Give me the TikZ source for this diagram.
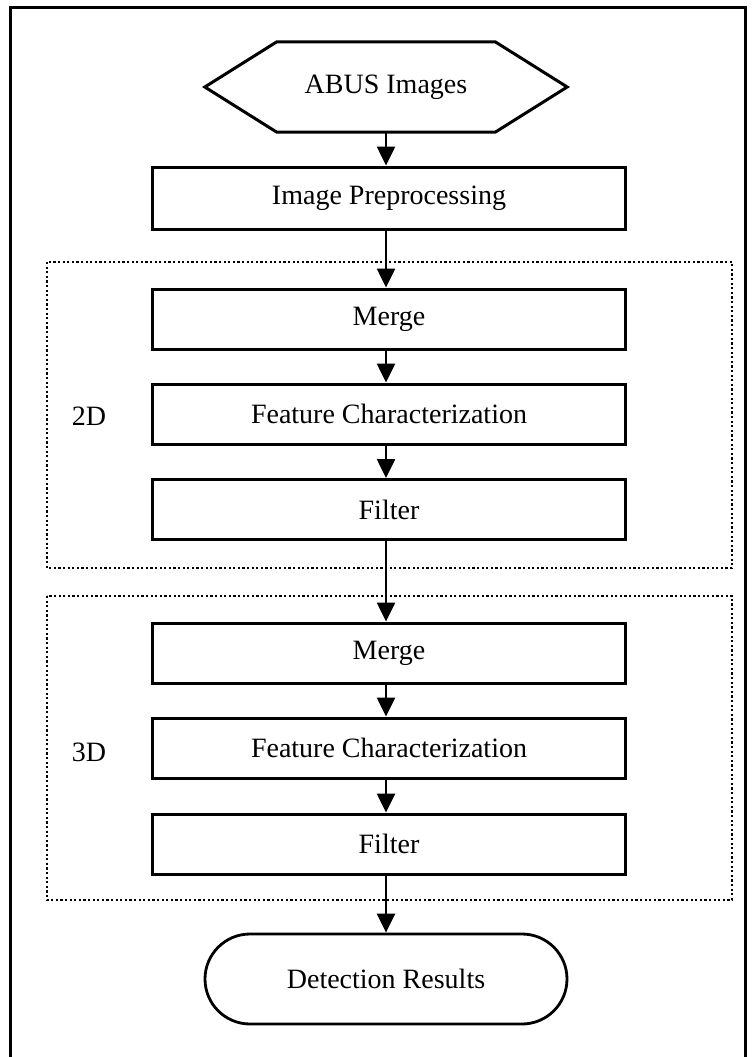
\documentclass[tikz,border=0pt]{standalone}
\usepackage{fontspec}
\setmainfont{Liberation Serif}
\usetikzlibrary{arrows.meta,shapes.misc,calc}
\begin{document}
\begin{tikzpicture}[x=1pt,y=-1pt,
  txt/.style={font=\fontsize{28}{32}\selectfont},
  procbox/.style={draw,line width=3pt,minimum width=473pt,minimum height=60pt,inner sep=0pt,txt},
  arr/.style={line width=2.6pt,-{Triangle[length=19pt,width=18pt]}},
  dotline/.style={line width=2.6pt,dash pattern=on 2.2pt off 2.4pt},
  frameline/.style={line width=3pt}]
\useasboundingbox (0,0) rectangle (755,1057);
% outer frame
\draw[frameline] (10.5,1075) -- (10.5,7.5) -- (745,7.5) -- (745,1075);
% dotted groups
\draw[dotline] (47,262) rectangle (732,568);
\draw[dotline] (47,596) rectangle (732,900);
\node[txt] (l2d) at (89,416) {2D};
\node[txt] (l3d) at (89,752) {3D};
% hexagon start
\node[minimum width=362pt,minimum height=90pt,inner sep=0pt,txt] (abus) at (386,87) {ABUS Images};
\draw[line width=3pt,line join=miter]
  (abus.west) -- ($(abus.north west)+(72,0)$) -- ($(abus.north east)+(-72,0)$)
  -- (abus.east) -- ($(abus.south east)+(-72,0)$) -- ($(abus.south west)+(72,0)$) -- cycle;
% process boxes
\node[procbox,minimum height=62pt] (prep) at (389,198) {Image Preprocessing};
\node[procbox] (m2) at (389,319) {Merge};
\node[procbox] (f2) at (389,414) {Feature Characterization};
\node[procbox] (fl2) at (389,509.5) {Filter};
\node[procbox] (m3) at (389,653) {Merge};
\node[procbox] (f3) at (389,748) {Feature Characterization};
\node[procbox] (fl3) at (389,844) {Filter};
% terminal
\node[draw,line width=2.8pt,rounded rectangle,minimum width=362pt,minimum height=90pt,inner sep=0pt,txt] (det) at (386,979) {Detection Results};
% connectors
\draw[arr] (abus.south) -- (abus.south |- prep.north);
\draw[arr] (prep.south -| abus.south) -- (abus.south |- m2.north);
\draw[arr] (m2.south -| abus.south) -- (abus.south |- f2.north);
\draw[arr] (f2.south -| abus.south) -- (abus.south |- fl2.north);
\draw[arr] (fl2.south -| abus.south) -- (abus.south |- m3.north);
\draw[arr] (m3.south -| abus.south) -- (abus.south |- f3.north);
\draw[arr] (f3.south -| abus.south) -- (abus.south |- fl3.north);
\draw[arr] (fl3.south -| abus.south) -- (det.north);
\end{tikzpicture}
\end{document}
